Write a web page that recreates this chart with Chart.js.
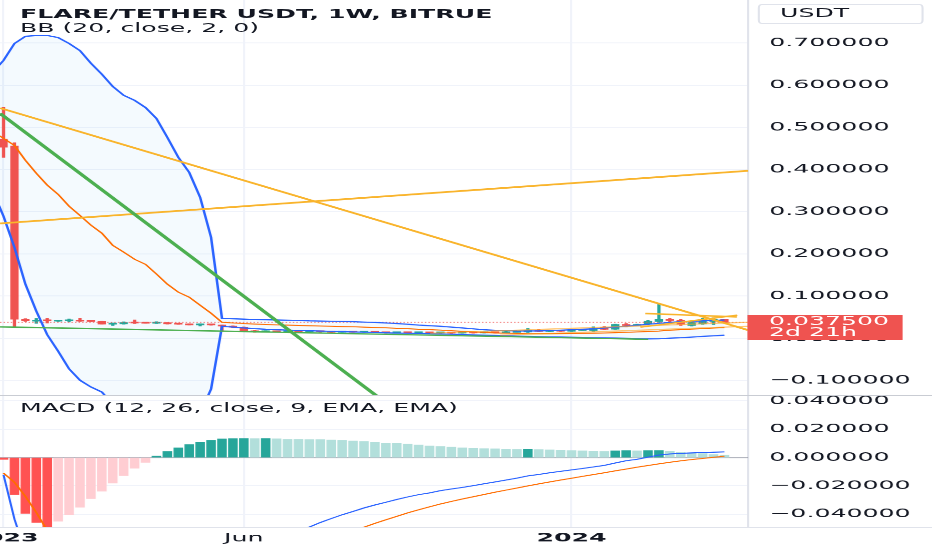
<!DOCTYPE html>
<html>
<head>
<meta charset="utf-8">
<title>FLARE/TETHER USDT, 1W, BITRUE</title>
<script src="https://cdn.jsdelivr.net/npm/chart.js@4.4.1/dist/chart.umd.min.js"></script>
<style>
  html, body { margin:0; padding:0; background:#ffffff; overflow:hidden; width:932px; height:550px; }
  #wrap { position:absolute; left:0; top:0; width:444px; height:550px; transform:scaleX(2.0991); transform-origin:0 0; font-family:'DejaVu Sans', sans-serif; color:#131722; }
  canvas { position:absolute; left:0; }
  .legend { position:absolute; left:9.5px; font-size:12px; line-height:14px; white-space:nowrap; }
  .sep { position:absolute; left:0; width:444px; height:1px; }
  #usdt { position:absolute; left:360.6px; top:4px; width:79.6px; height:20px; box-sizing:border-box; border:1px solid #e0e3eb; border-radius:2px / 4px; font-size:12px; line-height:16px; padding-left:10px; }
  #price { position:absolute; left:356.3px; top:315px; width:73.8px; height:25px; box-sizing:border-box; background:#ef5350; color:#ffffff; font-size:12px; line-height:11px; padding:1px 0 0 10px; white-space:nowrap; }
</style>
</head>
<body>
<div id="wrap">
  <canvas id="main" width="444" height="395" style="top:0px;width:444px;height:395px"></canvas>
  <div class="sep" style="top:395px;background:#c9ccd3"></div>
  <canvas id="macd" width="444" height="154" style="top:396px;width:444px;height:154px"></canvas>
  <div class="sep" style="top:527px;background:#e0e3eb"></div>
  <div class="legend" style="top:7px;font-weight:bold">FLARE/TETHER USDT, 1W, BITRUE</div>
  <div class="legend" style="top:20.5px">BB (20, close, 2, 0)</div>
  <div class="legend" style="top:401px">MACD (12, 26, close, 9, EMA, EMA)</div>
  <div id="usdt">USDT</div>
  <div id="price">0.037500<br>2d 21h</div>
</div>
<script>
// ---------------- data ----------------
// x positions are weekly bar indexes (bar 0 = first week of 2023)
const xTickPos = [0, 22, 52];
const xTickLabels = ['2023', 'Jun', '2024'];
const priceTicks = [-0.1, 0, 0.1, 0.2, 0.3, 0.4, 0.5, 0.6, 0.7];
const macdTicks = [-0.04, -0.02, 0, 0.02, 0.04];

const opens = [0.472, 0.4556, 0.0449, 0.0405, 0.0430, 0.0405, 0.0410, 0.0425, 0.0408, 0.0395,
  0.0330, 0.0340, 0.0375, 0.0365, 0.0355, 0.0365, 0.0340, 0.0335, 0.0315, 0.0325,
  0.0305, 0.0285, 0.0260, 0.0170, 0.0150, 0.0162, 0.0150, 0.0158, 0.0148, 0.0160,
  0.0150, 0.0142, 0.0152, 0.0140, 0.0146, 0.0136, 0.0128, 0.0135, 0.0127, 0.0134,
  0.0126, 0.0131, 0.0122, 0.0132, 0.0125, 0.0136, 0.0129, 0.0140, 0.0147, 0.0188,
  0.0160, 0.0175, 0.0165, 0.0185, 0.0180, 0.0250, 0.0211, 0.0320, 0.0300, 0.0330,
  0.0395, 0.0440, 0.0425, 0.0300, 0.0340, 0.0400, 0.0440];
const highs = [0.548, 0.4634, 0.0460, 0.0465, 0.0470, 0.0425, 0.0455, 0.0475, 0.0412, 0.0400,
  0.0360, 0.0385, 0.0430, 0.0375, 0.0390, 0.0370, 0.0345, 0.0340, 0.0340, 0.0330,
  0.0310, 0.0290, 0.0265, 0.0180, 0.0175, 0.0168, 0.0166, 0.0163, 0.0170, 0.0165,
  0.0155, 0.0160, 0.0156, 0.0153, 0.0150, 0.0140, 0.0142, 0.0139, 0.0140, 0.0138,
  0.0137, 0.0135, 0.0141, 0.0137, 0.0150, 0.0141, 0.0158, 0.0165, 0.0228, 0.0210,
  0.0185, 0.0180, 0.0195, 0.0205, 0.0266, 0.0275, 0.0330, 0.0347, 0.0330, 0.0425,
  0.0798, 0.0465, 0.0440, 0.0410, 0.0470, 0.0480, 0.0448];
const lows = [0.429, 0.0266, 0.0398, 0.0350, 0.0360, 0.0395, 0.0385, 0.0395, 0.0390, 0.0330,
  0.0300, 0.0330, 0.0345, 0.0350, 0.0345, 0.0335, 0.0325, 0.0310, 0.0290, 0.0305,
  0.0160, 0.0250, 0.0160, 0.0140, 0.0142, 0.0140, 0.0145, 0.0142, 0.0144, 0.0143,
  0.0136, 0.0138, 0.0134, 0.0133, 0.0130, 0.0122, 0.0122, 0.0121, 0.0122, 0.0120,
  0.0120, 0.0117, 0.0118, 0.0120, 0.0121, 0.0123, 0.0125, 0.0135, 0.0133, 0.0150,
  0.0150, 0.0155, 0.0160, 0.0178, 0.0164, 0.0195, 0.0209, 0.0266, 0.0295, 0.0320,
  0.0375, 0.0370, 0.0300, 0.0285, 0.0325, 0.0323, 0.0370];
const closes = [0.453, 0.0449, 0.0410, 0.0425, 0.0410, 0.0415, 0.0425, 0.0405, 0.0395, 0.0335,
  0.0340, 0.0370, 0.0360, 0.0355, 0.0365, 0.0340, 0.0330, 0.0315, 0.0325, 0.0315,
  0.0285, 0.0260, 0.0170, 0.0150, 0.0162, 0.0150, 0.0158, 0.0148, 0.0160, 0.0150,
  0.0142, 0.0152, 0.0140, 0.0146, 0.0136, 0.0128, 0.0135, 0.0127, 0.0134, 0.0126,
  0.0131, 0.0122, 0.0132, 0.0125, 0.0136, 0.0129, 0.0140, 0.0147, 0.0188, 0.0160,
  0.0175, 0.0165, 0.0185, 0.0195, 0.0228, 0.0210, 0.0323, 0.0300, 0.0315, 0.0400,
  0.0449, 0.0420, 0.0330, 0.0370, 0.0420, 0.0445, 0.0375];
const lastPrice = 0.0375;

// Bollinger Bands, starting one bar before bar 0
const bbFirstBar = -1;
const bbUpper = [0.630, 0.659, 0.699, 0.716, 0.718, 0.718, 0.713, 0.699, 0.682, 0.652,
  0.626, 0.597, 0.576, 0.564, 0.547, 0.521, 0.476, 0.429, 0.393, 0.334, 0.239,
  0.047, 0.046, 0.045, 0.044, 0.0435, 0.043, 0.0425, 0.042, 0.041, 0.0405,
  0.040, 0.0395, 0.039, 0.038, 0.037, 0.036, 0.0345, 0.033, 0.031, 0.0295,
  0.028, 0.026, 0.024, 0.022, 0.020, 0.0185, 0.0178, 0.0172, 0.017, 0.0172,
  0.0178, 0.0188, 0.0198, 0.021, 0.022, 0.024, 0.026, 0.028, 0.0305, 0.033,
  0.035, 0.0375, 0.039, 0.040, 0.041, 0.042, 0.043];
const bbBasis = [0.490, 0.474, 0.457, 0.422, 0.391, 0.363, 0.341, 0.313, 0.291, 0.268,
  0.249, 0.220, 0.204, 0.187, 0.175, 0.152, 0.128, 0.109, 0.097, 0.078, 0.059,
  0.0375, 0.036, 0.0345, 0.0333, 0.0323, 0.0315, 0.0308, 0.030, 0.0293, 0.0287,
  0.028, 0.0274, 0.0269, 0.026, 0.0252, 0.0244, 0.0233, 0.0223, 0.021, 0.020,
  0.019, 0.0176, 0.0163, 0.0149, 0.0135, 0.0124, 0.0117, 0.011, 0.0105, 0.0104,
  0.0104, 0.0107, 0.0109, 0.0113, 0.0115, 0.0123, 0.013, 0.0138, 0.0148, 0.0155,
  0.0168, 0.0187, 0.020, 0.0213, 0.0225, 0.0238, 0.025];
const bbLower = [0.350, 0.289, 0.215, 0.128, 0.064, 0.008, -0.031, -0.073, -0.100, -0.116,
  -0.128, -0.157, -0.168, -0.190, -0.197, -0.217, -0.220, -0.211, -0.199, -0.178, -0.121,
  0.028, 0.026, 0.024, 0.0225, 0.021, 0.020, 0.019, 0.018, 0.0175, 0.0168,
  0.016, 0.0153, 0.0147, 0.014, 0.0133, 0.0127, 0.012, 0.0115, 0.011, 0.0105,
  0.010, 0.0092, 0.0085, 0.0077, 0.007, 0.0062, 0.0055, 0.0047, 0.004, 0.0035,
  0.003, 0.0025, 0.002, 0.0015, 0.001, 0.0005, 0.0, -0.0005, -0.001, -0.002,
  -0.0015, -0.0002, 0.001, 0.0025, 0.004, 0.0055, 0.007];

// MACD (12, 26, 9)
const macdHist = [-0.0012, -0.026, -0.0394, -0.0458, -0.051, -0.045, -0.0404, -0.035, -0.029, -0.0237,
  -0.018, -0.0127, -0.0075, -0.0033, 0.001, 0.0042, 0.0068, 0.0092, 0.0106, 0.0122,
  0.0131, 0.0134, 0.0135, 0.0134, 0.0135, 0.0132, 0.0129, 0.0129, 0.0127, 0.0127,
  0.0124, 0.0122, 0.0117, 0.0113, 0.0108, 0.0103, 0.0099, 0.0094, 0.0089, 0.0082,
  0.0078, 0.0073, 0.0068, 0.0066, 0.0063, 0.0061, 0.0059, 0.0058, 0.0059, 0.0056,
  0.0054, 0.0052, 0.0049, 0.0047, 0.0045, 0.0043, 0.0047, 0.0049, 0.0047, 0.0049,
  0.005, 0.0045, 0.0038, 0.0033, 0.0028, 0.0021, 0.0016];
const macdLine = [-0.0122, -0.0435, -0.0668, -0.0846, -0.1025, -0.1077, -0.1132, -0.1165, -0.1177, -0.1183,
  -0.1171, -0.1150, -0.1117, -0.1083, -0.1038, -0.0995, -0.0952, -0.0905, -0.0865, -0.0818,
  -0.0776, -0.0740, -0.0705, -0.0672, -0.0637, -0.0581, -0.0552, -0.0520, -0.0491, -0.0459,
  -0.0431, -0.0404, -0.0381, -0.0356, -0.0335, -0.0316, -0.0296, -0.0278, -0.0262, -0.0250,
  -0.0234, -0.0222, -0.0211, -0.0198, -0.0185, -0.0172, -0.0159, -0.0145, -0.0129, -0.0119,
  -0.0107, -0.0097, -0.0087, -0.0077, -0.0066, -0.0055, -0.0038, -0.0022, -0.0012, 0.0003,
  0.0018, 0.0026, 0.0030, 0.0033, 0.0036, 0.0038, 0.0040];
const signalLine = [-0.011, -0.0175, -0.0274, -0.0388, -0.0515, -0.0627, -0.0728, -0.0815, -0.0887, -0.0946,
  -0.0991, -0.1023, -0.1042, -0.1050, -0.1048, -0.1037, -0.1020, -0.0997, -0.0971, -0.0940,
  -0.0907, -0.0874, -0.0840, -0.0806, -0.0772, -0.0739, -0.0707, -0.0675, -0.0643, -0.0611,
  -0.0580, -0.0550, -0.0521, -0.0492, -0.0465, -0.0440, -0.0415, -0.0391, -0.0369, -0.0348,
  -0.0328, -0.0310, -0.0293, -0.0277, -0.0261, -0.0245, -0.0230, -0.0215, -0.0200, -0.0186,
  -0.0172, -0.0159, -0.0146, -0.0133, -0.0120, -0.0107, -0.0094, -0.0081, -0.0068, -0.0056,
  -0.0044, -0.0033, -0.0023, -0.0014, -0.0006, 0.0002, 0.0010];

// user-drawn trend lines: [bar index, price] end points
const lineYellowDown = [[-0.32, 0.5458], [68.18, 0.0188]];
const lineYellowUp = [[-0.32, 0.272], [68.18, 0.397]];
const lineGreenSteep = [[-0.32, 0.5332], [40, -0.2507]];
const lineGreenFlat = [[-0.32, 0.0266], [59.02, -0.0029]];
const lineYellowShort = [[58.75, 0.0584], [67.14, 0.0503]];
const lineYellowRise = [[58.3, 0.0259], [67.17, 0.0544]];
const lineOrangeA = [[39.06, 0.0116], [68.18, 0.0377]];
const lineOrangeB = [[45.47, 0.0069], [68.18, 0.0282]];

// ---------------- styling / layout ----------------
const FONT = "'DejaVu Sans', sans-serif";
const TEXT = '#131722';
const GRID = '#f0f3fa';
const AXISLINE = '#e0e3eb';
const UP = '#26a69a', DOWN = '#ef5350';
const XMIN = -0.3205, XMAX = 68.18;
const AXIS_W = 87.7;
const DPR = 2.1;

const fmt = v => (v < -1e-12 ? '\u2212' : '') + Math.abs(v).toFixed(6);
const pts = arr => arr.map(p => ({x: p[0], y: p[1]}));
const seriesFrom = (arr, first) => arr.map((v, k) => ({x: k + first, y: v}));
const bars = opens.map((_, i) => i);

function xScale(showLabels) {
  return {
    type: 'linear', min: XMIN, max: XMAX, display: true, offset: false, bounds: 'data',
    grid: {color: GRID, drawTicks: false, lineWidth: 1, offset: false},
    border: {display: false},
    ticks: {
      display: showLabels, autoSkip: false, maxRotation: 0, padding: 4, color: TEXT,
      callback: (v, i) => xTickLabels[i],
      font: c => ({family: FONT, size: 12, weight: /^\d{4}$/.test(xTickLabels[c.index] || '') ? 'bold' : 'normal'})
    },
    afterBuildTicks: s => { s.ticks = xTickPos.map(v => ({value: v})); },
    afterFit: s => { s.height = showLabels ? 23 : 0; s.paddingLeft = 0; s.paddingRight = 0; }
  };
}
function yScale(min, max, tickVals) {
  return {
    type: 'linear', position: 'right', min: min, max: max, offset: false,
    grid: {color: GRID, drawTicks: false, lineWidth: 1, offset: false},
    border: {display: true, color: AXISLINE},
    ticks: {color: TEXT, padding: 10, autoSkip: false, font: {family: FONT, size: 12}, callback: v => fmt(v)},
    afterBuildTicks: s => { s.ticks = tickVals.map(v => ({value: v})); },
    afterFit: s => { s.width = AXIS_W; s.paddingTop = 0; s.paddingBottom = 0; }
  };
}
const lineDs = (data, color, width, order, extra) => Object.assign({
  type: 'line', data: data, borderColor: color, borderWidth: width, pointRadius: 0,
  fill: false, tension: 0, clip: 0, order: order
}, extra || {});

const common = {
  responsive: false, devicePixelRatio: DPR, animation: false, events: [],
  layout: {padding: 0},
  plugins: {legend: {display: false}, tooltip: {enabled: false}, filler: {drawTime: 'beforeDatasetsDraw'}}
};

// ---------------- main price pane ----------------
new Chart(document.getElementById('main'), {
  type: 'line',
  data: {
    datasets: [
      lineDs(seriesFrom(bbLower, bbFirstBar), '#2962ff', 1.2, 4),
      lineDs(seriesFrom(bbUpper, bbFirstBar), '#2962ff', 1.2, 4, {fill: '-1', backgroundColor: 'rgba(33,150,243,0.05)'}),
      lineDs(seriesFrom(bbBasis, bbFirstBar), '#ff6d00', 1, 4),
      {
        type: 'bar', label: 'wicks', grouped: false, clip: 0, order: 8,
        data: bars.map(i => ({x: i, y: [lows[i], highs[i]]})),
        backgroundColor: bars.map(i => closes[i] >= opens[i] ? UP : DOWN),
        barThickness: 0.9, borderWidth: 0
      },
      {
        type: 'bar', label: 'bodies', grouped: false, clip: 0, order: 7, minBarLength: 1,
        data: bars.map(i => ({x: i, y: [opens[i], closes[i]]})),
        backgroundColor: bars.map(i => closes[i] >= opens[i] ? UP : DOWN),
        barThickness: 3.3, borderWidth: 0
      },
      lineDs(pts([[XMIN, lastPrice], [XMAX, lastPrice]]), 'rgba(239,83,80,0.85)', 0.9, 6, {borderDash: [0.7, 1.0]}),
      lineDs(pts(lineGreenFlat), '#4caf50', 1.4, 3),
      lineDs(pts(lineOrangeB), 'rgba(255,152,0,0.55)', 1.2, 3),
      lineDs(pts(lineOrangeA), 'rgba(255,167,38,0.65)', 1.2, 3),
      lineDs(pts(lineGreenSteep), '#4caf50', 2.2, 2),
      lineDs(pts(lineYellowUp), '#f9b42c', 1.8, 2),
      lineDs(pts(lineYellowDown), '#f9b42c', 1.7, 2),
      lineDs(pts(lineYellowShort), '#f9b42c', 1.6, 1),
      lineDs(pts(lineYellowRise), '#f9b42c', 1.4, 1)
    ]
  },
  options: Object.assign({}, common, {
    scales: {x: xScale(false), y: yScale(-0.13555, 0.80214, priceTicks)}
  })
});

// ---------------- MACD pane ----------------
const histColors = macdHist.map((h, i) => {
  const prev = i > 0 ? macdHist[i - 1] : 0;
  if (h >= 0) return prev < h ? '#26a69a' : '#b2dfdb';
  return prev < h ? '#ffcdd2' : '#ff5252';
});
new Chart(document.getElementById('macd'), {
  type: 'line',
  data: {
    datasets: [
      lineDs(pts([[XMIN, 0], [XMAX, 0]]), 'rgba(120,123,134,0.5)', 1, 10),
      {
        type: 'bar', label: 'Histogram', grouped: false, clip: 0, order: 9,
        data: bars.map(i => ({x: i, y: macdHist[i]})),
        backgroundColor: histColors, barThickness: 3.9, borderWidth: 0
      },
      lineDs(seriesFrom(macdLine, 0), '#2962ff', 1, 2),
      lineDs(seriesFrom(signalLine, 0), '#ff6d00', 1, 1)
    ]
  },
  options: Object.assign({}, common, {
    scales: {x: xScale(true), y: yScale(-0.0492, 0.04354, macdTicks)}
  })
});
</script>
</body>
</html>
